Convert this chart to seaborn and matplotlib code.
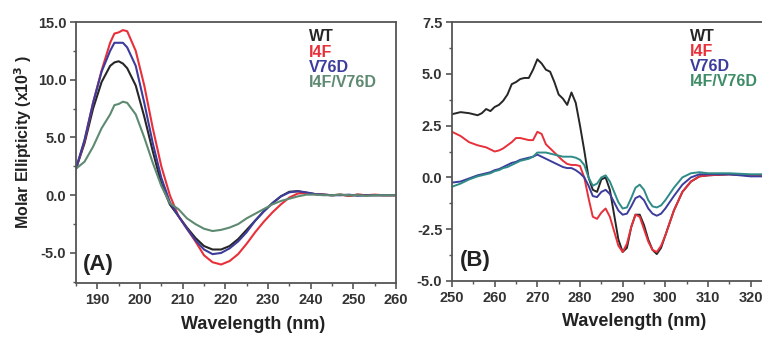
import numpy as np
import pandas as pd
import matplotlib
matplotlib.use("Agg")
import matplotlib.pyplot as plt
import seaborn as sns
from matplotlib.ticker import MultipleLocator, FormatStrFormatter

# ---------------- data: panel A (far-UV CD) ----------------
wl_a = [185, 187, 189, 191, 193, 194, 195, 196, 197, 199, 201, 203, 205, 207, 209,
        211, 213, 215, 217, 219, 221, 223, 225, 227, 229, 231, 233, 235, 237, 239,
        241, 243, 245, 247, 249, 251, 253, 255, 257, 260]
wt_a = [2.3, 4.5, 7.5, 9.8, 11.2, 11.5, 11.6, 11.4, 11.0, 9.5, 6.8, 3.8, 1.0, -0.8, -1.8,
        -2.8, -3.7, -4.4, -4.7, -4.7, -4.4, -3.8, -3.0, -2.2, -1.4, -0.7, -0.1, 0.3, 0.35, 0.2,
        0.1, 0.05, 0.0, 0.05, -0.05, 0.05, 0.0, 0.0, 0.0, 0.0]
i4f_a = [2.3, 4.7, 8.0, 10.8, 13.2, 14.0, 14.1, 14.3, 14.2, 12.5, 9.5, 5.8, 2.5, 0.0, -1.8,
         -2.9, -4.0, -5.2, -5.8, -6.0, -5.7, -5.1, -4.2, -3.2, -2.3, -1.5, -0.8, -0.2, 0.15, 0.2,
         0.1, 0.05, 0.0, 0.05, -0.05, 0.05, 0.0, 0.05, 0.0, 0.0]
v76d_a = [2.3, 4.8, 8.0, 10.7, 12.5, 13.2, 13.2, 13.2, 12.8, 11.2, 8.0, 4.5, 1.5, -0.6, -1.8,
          -2.9, -3.9, -4.7, -5.1, -5.0, -4.6, -4.0, -3.2, -2.2, -1.4, -0.7, -0.1, 0.25, 0.35, 0.25,
          0.1, 0.05, 0.0, 0.0, 0.05, -0.05, 0.0, 0.0, 0.0, 0.0]
dbl_a = [2.3, 2.9, 4.2, 5.8, 7.0, 7.8, 7.9, 8.1, 8.0, 7.0, 5.0, 2.8, 0.8, -0.7, -1.2,
         -2.0, -2.5, -2.9, -3.1, -3.0, -2.8, -2.5, -2.0, -1.6, -1.2, -0.8, -0.5, -0.3, -0.1, 0.05,
         0.05, 0.0, 0.0, 0.05, 0.0, 0.0, -0.05, 0.0, 0.0, 0.0]

# ---------------- data: panel B (near-UV CD) ----------------
wl_b = [250, 252, 254, 256, 257, 258, 259, 260, 261, 262, 263, 264, 265, 266, 267, 268, 269,
        270, 271, 272, 273, 274, 275, 276, 277, 278, 279, 280, 281, 282, 283, 284, 285, 286,
        287, 288, 289, 290, 291, 292, 293, 294, 295, 296, 297, 298, 299, 300, 302, 304, 306,
        308, 310, 315, 320, 325]
wt_b = [3.05, 3.15, 3.1, 3.0, 3.1, 3.3, 3.2, 3.4, 3.5, 3.7, 4.0, 4.5, 4.6, 4.75, 4.8, 4.8, 5.2,
        5.7, 5.5, 5.2, 5.1, 4.6, 4.0, 3.8, 3.5, 4.1, 3.6, 2.5, 1.3, 0.0, -0.6, -0.7, -0.1, 0.0,
        -0.6, -1.8, -3.0, -3.6, -3.4, -2.4, -1.8, -1.8, -2.3, -3.0, -3.5, -3.7, -3.4, -2.8, -1.6, -0.7, -0.2,
        0.05, 0.1, 0.15, 0.1, 0.1]
i4f_b = [2.2, 2.0, 1.7, 1.55, 1.5, 1.45, 1.35, 1.25, 1.3, 1.4, 1.55, 1.7, 1.9, 1.9, 1.85, 1.8, 1.8,
         2.2, 2.1, 1.6, 1.4, 1.2, 1.0, 0.8, 0.65, 0.6, 0.6, 0.55, 0.0, -1.0, -1.9, -2.0, -1.7, -1.5,
         -1.9, -2.6, -3.3, -3.6, -3.2, -2.4, -1.8, -1.9, -2.5, -3.1, -3.5, -3.6, -3.3, -2.8, -1.6, -0.7, -0.2,
         0.05, 0.1, 0.15, 0.1, 0.1]
v76d_b = [-0.25, -0.2, -0.05, 0.1, 0.15, 0.2, 0.25, 0.35, 0.4, 0.5, 0.6, 0.7, 0.75, 0.85, 0.9, 0.95, 1.0,
          1.1, 1.0, 0.9, 0.8, 0.7, 0.6, 0.5, 0.45, 0.45, 0.35, 0.2, 0.0, -0.4, -0.9, -0.95, -0.7, -0.6,
          -0.8, -1.2, -1.6, -1.8, -1.75, -1.4, -1.0, -0.9, -1.1, -1.5, -1.75, -1.85, -1.75, -1.5, -0.9, -0.35, 0.0,
          0.15, 0.15, 0.15, 0.05, 0.05]
dbl_b = [-0.45, -0.3, -0.1, 0.05, 0.1, 0.15, 0.2, 0.3, 0.35, 0.45, 0.5, 0.6, 0.7, 0.8, 0.85, 0.9, 1.0,
         1.2, 1.2, 1.2, 1.15, 1.1, 1.05, 1.0, 1.0, 1.0, 0.95, 0.85, 0.6, 0.0, -0.4, -0.3, 0.0, 0.1,
         -0.2, -0.7, -1.2, -1.5, -1.45, -1.0, -0.5, -0.35, -0.6, -1.1, -1.4, -1.45, -1.35, -1.1, -0.5, 0.0, 0.2,
         0.25, 0.2, 0.2, 0.15, 0.15]

names = ["WT", "I4F", "V76D", "I4F/V76D"]
colors_a = ["#262626", "#e8303a", "#3c3c9c", "#5e8a72"]
colors_b = ["#262626", "#e8303a", "#3c3c9c", "#2e8c88"]
legend_colors_b = ["#262626", "#e8303a", "#3c3c9c", "#3e8c68"]

df_a = pd.DataFrame({"wl": wl_a * 4,
                     "val": wt_a + i4f_a + v76d_a + dbl_a,
                     "sample": sum([[n] * len(wl_a) for n in names], [])})
df_b = pd.DataFrame({"wl": wl_b * 4,
                     "val": wt_b + i4f_b + v76d_b + dbl_b,
                     "sample": sum([[n] * len(wl_b) for n in names], [])})

sns.set_theme(style="white")
plt.rcParams["font.family"] = ["Liberation Sans", "DejaVu Sans"]
plt.rcParams["font.weight"] = "bold"

fig = plt.figure(figsize=(7.62, 3.37), dpi=100)
W, H = 762, 337
axA = fig.add_axes([76 / W, 1 - 283 / H, 320 / W, 261 / H])
axB = fig.add_axes([452 / W, 1 - 281 / H, 320 / W, 259 / H])

sns.lineplot(data=df_a, x="wl", y="val", hue="sample", hue_order=names,
             palette=colors_a, ax=axA, legend=False, linewidth=1.5, sort=False)
sns.lineplot(data=df_b, x="wl", y="val", hue="sample", hue_order=names,
             palette=colors_b, ax=axB, legend=False, linewidth=1.4, sort=False)

tick_col = "#333333"
spine_col = "#555555"

def style(ax, xlim, ylim, xmaj, ymaj, xlabel_x):
    ax.set_xlim(*xlim)
    ax.set_ylim(*ylim)
    ax.xaxis.set_major_locator(MultipleLocator(xmaj))
    ax.xaxis.set_minor_locator(MultipleLocator(xmaj / 2))
    ax.yaxis.set_major_locator(MultipleLocator(ymaj))
    ax.yaxis.set_minor_locator(MultipleLocator(ymaj / 2))
    ax.yaxis.set_major_formatter(FormatStrFormatter("%.1f"))
    ax.tick_params(axis="both", which="major", direction="out", length=4, width=1.2,
                   color=spine_col, labelsize=10.5, labelcolor=tick_col, pad=3,
                   bottom=True, left=True)
    ax.tick_params(axis="both", which="minor", direction="out", length=2.5, width=1.0,
                   color=spine_col, bottom=True, left=True)
    for s in ax.spines.values():
        s.set_visible(True)
        s.set_color(spine_col)
        s.set_linewidth(1.3)
    for lab in ax.get_xticklabels() + ax.get_yticklabels():
        lab.set_fontweight("bold")
    ax.set_xlabel("Wavelength (nm)", fontsize=13, fontweight="bold", color="#222222")
    ax.xaxis.set_label_coords(xlabel_x, -0.125)
    ax.grid(False)

style(axA, (185, 260), (-7.6, 15), 10, 5, 0.553)
style(axB, (250, 325), (-5, 7.5), 10, 2.5, 0.569)

axA.set_ylabel("Molar Ellipticity (x10$^\\mathbf{3}$ )", fontsize=11.5, fontweight="bold",
               color="#222222")
axA.yaxis.set_label_coords(-0.13, 0.54)
axB.set_ylabel("")

for ax, cols, lx in ((axA, colors_a, 0.728), (axB, legend_colors_b, 0.744)):
    for i, (n, c) in enumerate(zip(names, cols)):
        ax.text(lx, 0.943 - i * 0.058, n, transform=ax.transAxes, color=c,
                fontsize=11.5, fontweight="bold", va="center", ha="left")

axA.text(0.022, 0.069, "(A)", transform=axA.transAxes, fontsize=16, fontweight="bold",
         va="center", ha="left", color="#222222")
axB.text(0.025, 0.081, "(B)", transform=axB.transAxes, fontsize=16, fontweight="bold",
         va="center", ha="left", color="#222222")

fig.savefig("out.png", dpi=100)
